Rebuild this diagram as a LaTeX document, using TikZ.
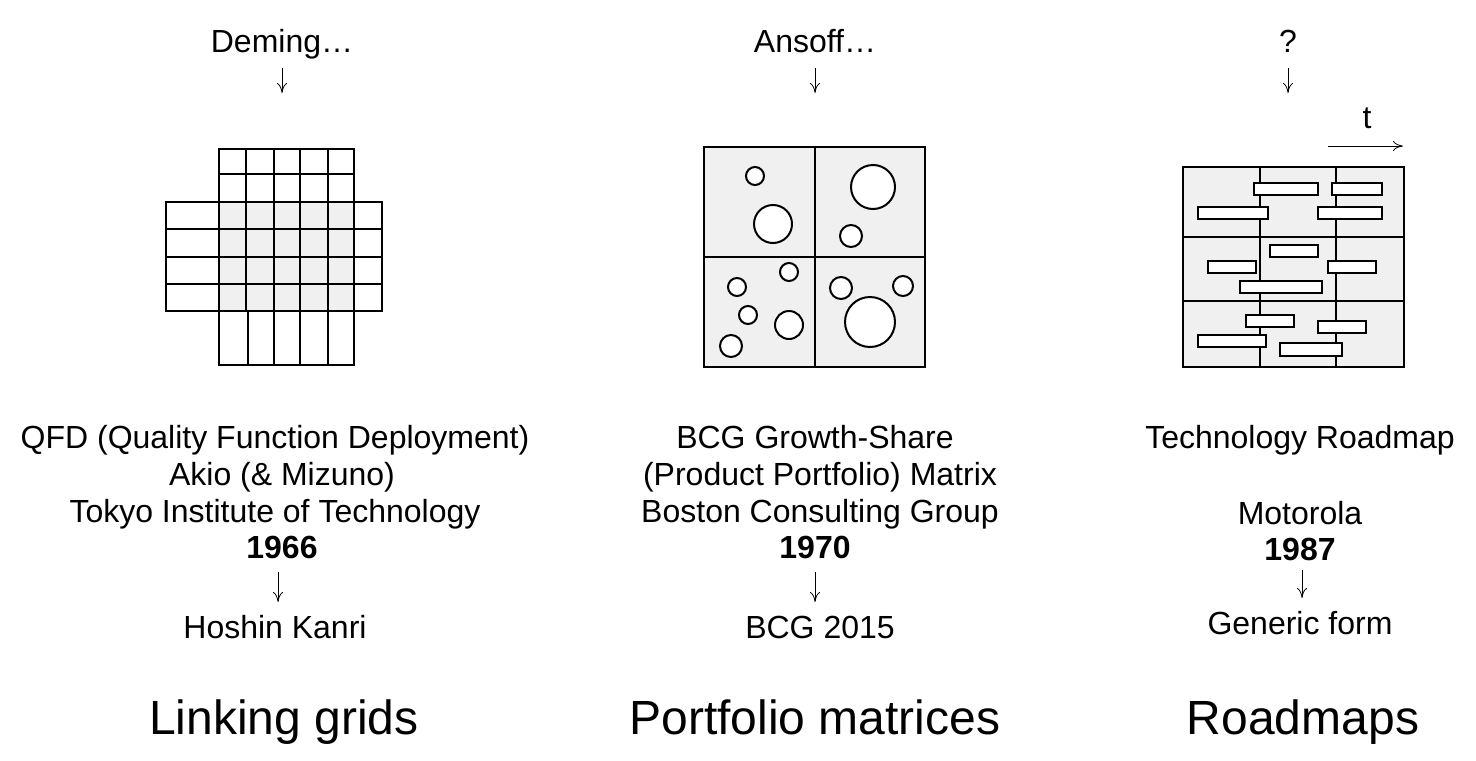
\documentclass[tikz,border=0pt]{standalone}
\usepackage{fontspec}
\setmainfont{Liberation Sans}
\usetikzlibrary{arrows.meta}

\begin{document}
\begin{tikzpicture}[x=0.5pt, y=-0.5pt]
  \tikzstyle{label} = [font=\fontsize{16}{18.5}\selectfont, anchor=base, inner sep=0pt]
  \tikzstyle{title} = [font=\fontsize{24}{26}\selectfont, anchor=base, inner sep=0pt]
  \tikzstyle{down} = [-{To[length=5pt,width=5pt]}, thin]
  \tikzstyle{cell} = [draw, line width=1pt]
  \tikzstyle{bar} = [draw, line width=1pt, fill=white]
\useasboundingbox (0,0) rectangle (1476,760);

% column 1
\node[label] (deming) at (282,52) {Deming\dots};
\node[label] (qfd) at (275,448) {QFD (Quality Function Deployment)};
\node[label] (akio) at (282,485) {Akio (\& Mizuno)};
\node[label] (tokyo) at (275,522) {Tokyo Institute of Technology};
\node[label] (y66) at (282,558) {\textbf{1966}};
\node[label] (hoshin) at (275,638) {Hoshin Kanri};
\node[title] (grids) at (284,734) {Linking grids};
\coordinate (g1) at (282,68);
\coordinate (g2) at (282,93);
\draw[down] (g1) -- (g2);
\coordinate (g3) at (278,572);
\coordinate (g4) at (278,602);
\draw[down] (g3) -- (g4);
\fill[gray!12] (219,202) rectangle (354,311);
\draw[cell] (219,149) rectangle (354,202);
\foreach \y in {174,202} \draw[cell] (219,\y) -- (354,\y);
\foreach \x in {246,274,300,328} \draw[cell] (\x,149) -- (\x,311);
\draw[cell] (166,202) rectangle (382,311);
\foreach \y in {229,257,284} \draw[cell] (166,\y) -- (382,\y);
\foreach \x in {219,354} \draw[cell] (\x,202) -- (\x,311);
\draw[cell] (219,311) rectangle (354,365);
\foreach \x in {248,274,300,328} \draw[cell] (\x,311) -- (\x,365);

% column 2
\node[label] (ansoff) at (815,52) {Ansoff\dots};
\node[label] (bcg) at (815,448) {BCG Growth-Share};
\node[label] (product) at (820,485) {(Product Portfolio) Matrix};
\node[label] (boston) at (820,522) {Boston Consulting Group};
\node[label] (y70) at (815,558) {\textbf{1970}};
\node[label] (bcg15) at (820,638) {BCG 2015};
\node[title] (matrices) at (815,734) {Portfolio matrices};
\coordinate (m1) at (815,68);
\coordinate (m2) at (815,93);
\draw[down] (m1) -- (m2);
\coordinate (m3) at (815,572);
\coordinate (m4) at (815,602);
\draw[down] (m3) -- (m4);
\draw[cell, fill=gray!12] (704,147) rectangle (925,367);
\draw[cell] (815,147) -- (815,367);
\draw[cell] (704,257) -- (925,257);
\foreach \cx/\cy/\r in {755/176/9, 873/187/22, 773/224/19, 851/236/11, 789/272/9, 737/287/9,
  841/288/11, 903/286/10, 748/315/9, 789/325/14, 870/322/25, 731/346/11}
  \draw[cell, fill=white] (\cx,\cy) circle (\r);

% column 3
\node[label] (quest) at (1288,52) {?};
\node[label] (roadmap) at (1300,448) {Technology Roadmap};
\node[label] (motorola) at (1300,524) {Motorola};
\node[label] (y87) at (1300,560) {\textbf{1987}};
\node[label] (generic) at (1300,634) {Generic form};
\node[title] (roadmaps) at (1303,734) {Roadmaps};
\coordinate (r1) at (1288,68);
\coordinate (r2) at (1288,93);
\draw[down] (r1) -- (r2);
\coordinate (r3) at (1302,570);
\coordinate (r4) at (1302,598);
\draw[down] (r3) -- (r4);
\node[label] (t) at (1367,128) {t};
\coordinate (t1) at (1328,146);
\coordinate (t2) at (1403,146);
\draw[down] (t1) -- (t2);
\draw[cell, fill=gray!12] (1183,167) rectangle (1404,367);
\foreach \x in {1260,1336} \draw[cell] (\x,167) -- (\x,367);
\foreach \y in {237,301} \draw[cell] (1183,\y) -- (1404,\y);
\foreach \xa/\ya/\xb/\yb in {1254/183/1318/195, 1332/183/1382/195, 1198/207/1268/219, 1318/207/1382/219,
  1270/245/1318/257, 1208/261/1256/273, 1328/261/1376/273, 1240/281/1322/293,
  1246/315/1294/327, 1318/321/1366/333, 1198/335/1266/347, 1280/343/1342/356}
  \draw[bar] (\xa,\ya) rectangle (\xb,\yb);
\end{tikzpicture}
\end{document}
